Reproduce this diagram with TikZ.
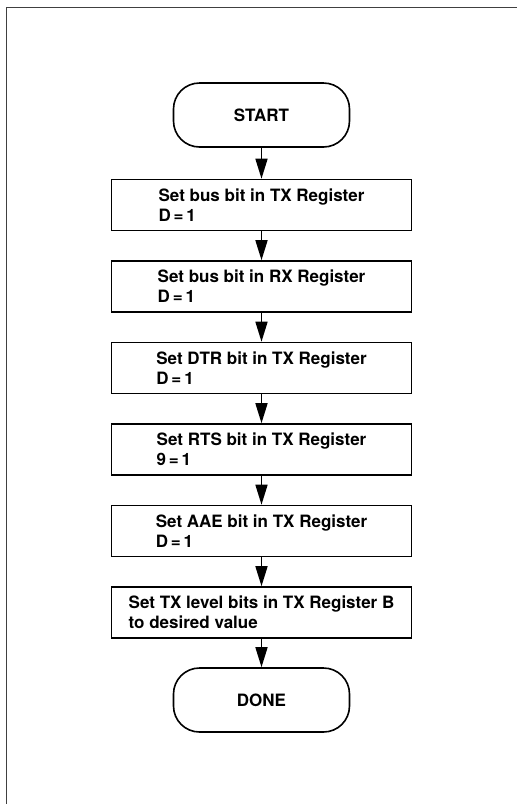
\documentclass[tikz,border=0pt]{standalone}
\usepackage{fontspec}
\setmainfont{TeX Gyre Heros}
\usetikzlibrary{arrows.meta}
\begin{document}
\begin{tikzpicture}[x=1pt,y=-1pt,
  txt/.style={font=\bfseries\fontsize{17}{20}\selectfont},
  box/.style={txt,draw,line width=1.6pt,minimum width=300pt,minimum height=51pt,align=left,inner sep=0pt},
  term/.style={txt,draw,line width=1.6pt,rounded corners=26pt,minimum width=176pt,minimum height=64pt,inner sep=0pt},
  flow/.style={line width=1.6pt,-{Triangle[length=20pt,width=12pt]}},
  frame/.style={line width=0.9pt,black!75}]
\useasboundingbox (0,0) rectangle (517,804);
\coordinate (fr) at (517,7);
\coordinate (fc) at (6.5,7);
\coordinate (fb) at (6.5,804);
\draw[frame] (fr) -- (fc) -- (fb);
\node[term] (start) at (261.5,115) {START};
\node[box] (b1) at (261.5,205) {Set bus bit in TX Register\\D\,=\,1};
\node[box] (b2) at (261.5,286.5) {Set bus bit in RX Register\\D\,=\,1};
\node[box] (b3) at (261.5,368) {Set DTR bit in TX Register\\D\,=\,1};
\node[box] (b4) at (261.5,449.5) {Set RTS bit in TX Register\\9\,=\,1};
\node[box] (b5) at (261.5,531) {Set AAE bit in TX Register\\D\,=\,1};
\node[box] (b6) at (261.5,612.5) {Set TX level bits in TX Register B\\to desired value};
\node[term] (done) at (261.5,700) {DONE};
\draw[flow] (start) -- (b1);
\draw[flow] (b1) -- (b2);
\draw[flow] (b2) -- (b3);
\draw[flow] (b3) -- (b4);
\draw[flow] (b4) -- (b5);
\draw[flow] (b5) -- (b6);
\draw[flow] (b6) -- (done);
\end{tikzpicture}
\end{document}
